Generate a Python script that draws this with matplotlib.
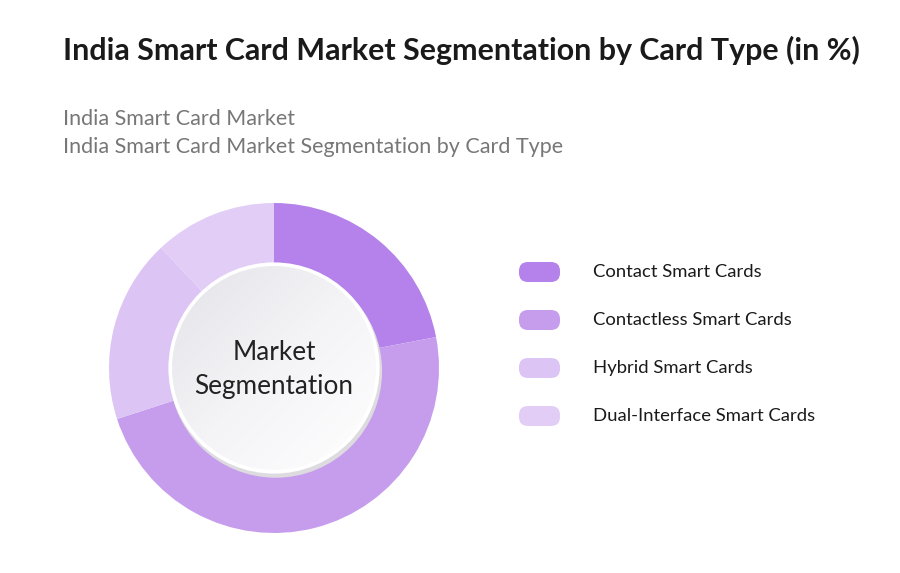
import numpy as np
import matplotlib.pyplot as plt
from matplotlib.patches import FancyBboxPatch, Circle
from matplotlib.colors import LinearSegmentedColormap

# Data (approximate shares, %)
categories = ["Contact Smart Cards", "Contactless Smart Cards",
              "Hybrid Smart Cards", "Dual-Interface Smart Cards"]
shares = [22, 48, 18, 12]
colors = ["#B482EA", "#C69DED", "#DCC4F5", "#E2CDF7"]

title = "India Smart Card Market Segmentation by Card Type (in %)"
subtitle1 = "India Smart Card Market"
subtitle2 = "India Smart Card Market Segmentation by Card Type"
center_label = "Market\nSegmentation"

plt.rcParams['font.family'] = ['Lato', 'DejaVu Sans']

W, H = 900, 573
fig = plt.figure(figsize=(W / 100, H / 100), dpi=100)
fig.patch.set_facecolor("white")

# Titles
fig.text(63 / W, 1 - 50 / H, title, fontsize=21.9, fontweight="bold",
         color="#1a1a1a", va="center", ha="left")
fig.text(63 / W, 1 - 119 / H, subtitle1, fontsize=15.5, color="#777777",
         va="center", ha="left")
fig.text(63 / W, 1 - 147 / H, subtitle2, fontsize=15.5, color="#777777",
         va="center", ha="left")

# Donut
cx, cy, r = 274, 368, 165
ax = fig.add_axes([(cx - r) / W, 1 - (cy + r) / H, 2 * r / W, 2 * r / H])
ax.pie(shares, colors=colors, startangle=90, counterclock=False,
       radius=1.0, wedgeprops=dict(width=0.37, linewidth=0))
ax.add_patch(Circle((0.01, -0.02), 0.645, facecolor="#dddbe0", edgecolor="none", zorder=3))
ax.add_patch(Circle((0, 0), 0.64, facecolor="#ffffff", edgecolor="none", zorder=4))
inner = Circle((0, 0), 0.618, facecolor="none", edgecolor="none", zorder=5)
ax.add_patch(inner)
# soft shading: darker top-left, white bottom-right
gx, gy = np.meshgrid(np.linspace(0, 1, 200), np.linspace(0, 1, 200))
grad = (gx + gy) / 2
cmap = LinearSegmentedColormap.from_list("g", ["#e4e3e8", "#f4f3f6", "#ffffff"])
im = ax.imshow(grad, cmap=cmap, extent=(-0.62, 0.62, -0.62, 0.62),
               origin="upper", zorder=5, interpolation="bilinear")
im.set_clip_path(inner)
ax.text(0, -0.01, center_label, ha="center", va="center", fontsize=18.8,
        color="#222222", linespacing=1.45, zorder=6)
ax.set_xlim(-1, 1)
ax.set_ylim(-1, 1)
ax.set_aspect("equal")
ax.axis("off")

# Legend, in a pixel-space overlay axes
lax = fig.add_axes([0, 0, 1, 1], facecolor="none")
lax.set_xlim(0, W)
lax.set_ylim(H, 0)
lax.axis("off")
leg_y = [272, 320, 368, 416]
for cat, col, y in zip(categories, colors, leg_y):
    lax.add_patch(FancyBboxPatch((519, y - 10), 41, 20,
                                 boxstyle="round,pad=0,rounding_size=9",
                                 facecolor=col, edgecolor="none"))
    lax.text(593, y, cat, fontsize=13.3, color="#1a1a1a",
             va="center", ha="left")

fig.savefig("out.png", dpi=100, facecolor="white")
